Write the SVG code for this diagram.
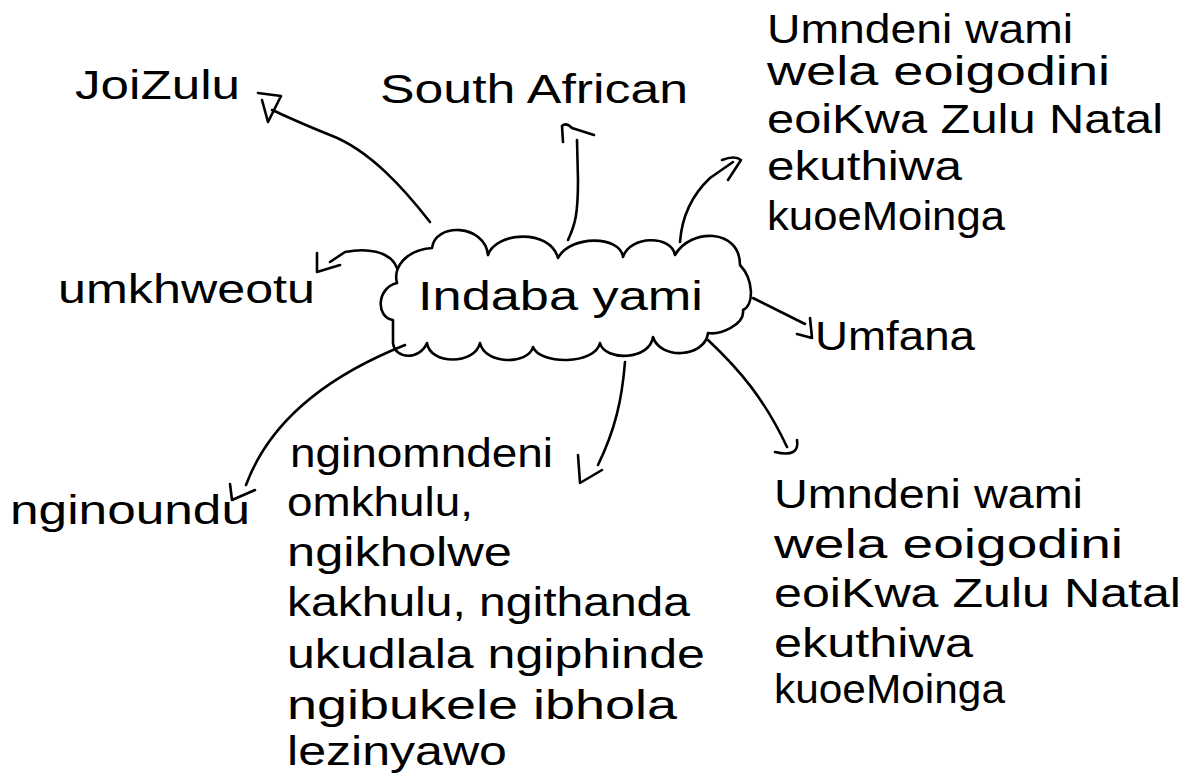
<svg xmlns="http://www.w3.org/2000/svg" width="1187" height="778" viewBox="0 0 1187 778">
<style>
.t{font-family:"Liberation Sans","DejaVu Sans",sans-serif;font-size:40px;fill:#000}
.c{fill:none;stroke:#000;stroke-width:2.6;stroke-linecap:round;stroke-linejoin:round}
</style>
<rect width="1187" height="778" fill="#fff"/>
<g id="center">
<path class="c" d="M 432 248 C 435 222, 485 224, 488 255 C 495 232, 550 228, 558 258 C 570 235, 620 235, 623 257 C 630 235, 672 235, 675 255 C 690 228, 740 228, 740 265 C 754 280, 754 305, 743 310 C 745 325, 720 335, 708 333 C 705 358, 660 360, 653 337 C 650 360, 605 362, 600 343 C 595 365, 540 365, 533 347 C 528 365, 485 365, 480 343 C 475 365, 430 365, 427 343 C 420 360, 395 360, 393 343 L 393 320 C 376 318, 376 288, 397 283 C 393 268, 405 250, 432 248 Z"/>
<text class="t" x="418" y="310" textLength="285" lengthAdjust="spacingAndGlyphs">Indaba yami</text>
</g>
<g id="joizulu"><text class="t" x="75" y="99" textLength="165" lengthAdjust="spacingAndGlyphs">JoiZulu</text></g>
<g id="southafrican"><text class="t" x="380" y="103" textLength="308" lengthAdjust="spacingAndGlyphs">South African</text></g>
<g id="family-top">
<text class="t" x="767" y="43" textLength="306" lengthAdjust="spacingAndGlyphs">Umndeni wami</text>
<text class="t" x="767" y="85" textLength="343" lengthAdjust="spacingAndGlyphs">wela eoigodini</text>
<text class="t" x="767" y="133" textLength="396" lengthAdjust="spacingAndGlyphs">eoiKwa Zulu Natal</text>
<text class="t" x="767" y="180" textLength="195" lengthAdjust="spacingAndGlyphs">ekuthiwa</text>
<text class="t" x="767" y="230" textLength="238" lengthAdjust="spacingAndGlyphs">kuoeMoinga</text>
</g>
<g id="umkhweotu"><text class="t" x="58" y="303" textLength="257" lengthAdjust="spacingAndGlyphs">umkhweotu</text></g>
<g id="umfana"><text class="t" x="815" y="350" textLength="160" lengthAdjust="spacingAndGlyphs">Umfana</text></g>
<g id="nginoundu"><text class="t" x="10" y="524" textLength="240" lengthAdjust="spacingAndGlyphs">nginoundu</text></g>
<g id="hobbies">
<text class="t" x="290" y="467" textLength="263" lengthAdjust="spacingAndGlyphs">nginomndeni</text>
<text class="t" x="287" y="516" textLength="186" lengthAdjust="spacingAndGlyphs">omkhulu,</text>
<text class="t" x="287" y="566" textLength="225" lengthAdjust="spacingAndGlyphs">ngikholwe</text>
<text class="t" x="287" y="616" textLength="403" lengthAdjust="spacingAndGlyphs">kakhulu, ngithanda</text>
<text class="t" x="287" y="668" textLength="418" lengthAdjust="spacingAndGlyphs">ukudlala ngiphinde</text>
<text class="t" x="287" y="719" textLength="390" lengthAdjust="spacingAndGlyphs">ngibukele ibhola</text>
<text class="t" x="287" y="765" textLength="220" lengthAdjust="spacingAndGlyphs">lezinyawo</text>
</g>
<g id="family-bottom">
<text class="t" x="774" y="508" textLength="309" lengthAdjust="spacingAndGlyphs">Umndeni wami</text>
<text class="t" x="774" y="558" textLength="349" lengthAdjust="spacingAndGlyphs">wela eoigodini</text>
<text class="t" x="774" y="607" textLength="407" lengthAdjust="spacingAndGlyphs">eoiKwa Zulu Natal</text>
<text class="t" x="774" y="657" textLength="199" lengthAdjust="spacingAndGlyphs">ekuthiwa</text>
<text class="t" x="774" y="703" textLength="231" lengthAdjust="spacingAndGlyphs">kuoeMoinga</text>
</g>
<g id="connectors">
<path class="c" d="M 430 222 C 405 190, 370 150, 330 135 C 305 125, 290 118, 272 110"/>
<path class="c" d="M 258 93 L 281 96 L 268 122 L 262 100"/>
<path class="c" d="M 568 240 C 575 225, 578 215, 578 180 L 577 140"/>
<path class="c" d="M 563 142 L 562 126 Q 566 122 572 128 L 594 135"/>
<path class="c" d="M 680 242 C 682 215, 692 195, 710 178 L 733 162"/>
<path class="c" d="M 722 160 Q 735 155, 741 160 L 728 180"/>
<path class="c" d="M 397 268 C 390 250, 365 248, 345 252 L 330 262"/>
<path class="c" d="M 317 253 L 317 272 L 340 265"/>
<path class="c" d="M 753 298 L 805 324"/>
<path class="c" d="M 810 318 L 812 338 L 797 334"/>
<path class="c" d="M 405 345 C 330 375, 270 420, 246 485"/>
<path class="c" d="M 230 484 L 232 500 L 255 490"/>
<path class="c" d="M 625 362 C 622 400, 615 430, 598 465"/>
<path class="c" d="M 578 455 L 580 483 L 602 470"/>
<path class="c" d="M 708 340 C 740 370, 765 400, 787 447"/>
<path class="c" d="M 797 440 Q 800 458, 775 452"/>
</g>
</svg>
